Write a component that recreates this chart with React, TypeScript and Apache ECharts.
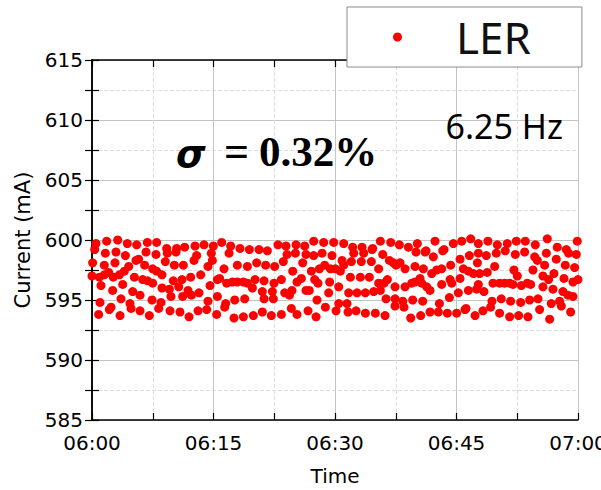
import React, { useEffect, useRef } from "react";
import * as echarts from "echarts";

// Beam current readings, [minutes after 06:00, current in mA]
const block1: [number, number][] = [
  [0.49, 599.7], [0.33, 599.2], [1.81, 599.9], [3.17, 600.0], [4.36, 599.7], [5.52, 599.6],
  [6.83, 599.8], [7.98, 599.8], [9.22, 599.3], [9.3, 598.9], [10.45, 599.3], [11.44, 599.4],
  [1.65, 598.9], [2.96, 599.0], [4.12, 598.7], [6.67, 599.0], [7.9, 598.8], [10.37, 599.0],
  [0.08, 598.1], [1.52, 597.9], [2.84, 598.1], [5.43, 598.3], [5.76, 598.4], [6.5, 597.9],
  [9.05, 598.2], [10.17, 597.9], [11.28, 597.9], [0.0, 597.0], [0.91, 596.9], [1.52, 597.1],
  [2.06, 597.3], [2.63, 596.9], [3.38, 597.1], [3.99, 597.4], [4.53, 597.8], [5.23, 596.9],
  [7.49, 597.6], [7.98, 597.4], [8.64, 597.1], [10.04, 596.6], [11.11, 596.7], [1.11, 596.2],
  [3.79, 596.3], [6.26, 596.7], [6.87, 596.6], [7.49, 596.4], [8.64, 596.0], [9.55, 595.9],
  [10.7, 596.1], [2.55, 595.8], [5.02, 595.7], [5.93, 595.4], [9.75, 595.3], [0.99, 594.8],
  [3.58, 595.1], [4.69, 594.7], [7.41, 595.0], [8.52, 594.8], [2.35, 594.4], [2.14, 594.2],
  [4.82, 594.3], [5.93, 594.1], [8.23, 594.3], [10.86, 594.0], [0.82, 593.8], [3.46, 593.7],
  [7.08, 593.7], [9.63, 594.1], [11.19, 595.3],
];

const block2: [number, number][] = [
  [12.72, 599.5], [13.83, 599.6], [14.98, 599.5], [16.01, 599.8], [17.12, 599.5], [18.27, 599.3],
  [19.43, 599.2], [20.62, 599.2], [21.65, 599.1], [22.96, 599.6], [12.92, 598.7], [14.73, 598.9],
  [16.92, 598.9], [12.59, 598.3], [14.86, 598.3], [14.32, 597.8], [16.3, 597.6], [17.94, 597.9],
  [19.18, 597.8], [20.33, 598.1], [21.44, 597.9], [22.55, 597.8], [23.62, 598.2], [12.18, 596.9],
  [13.42, 597.1], [15.48, 596.7], [15.76, 596.8], [14.57, 596.2], [16.63, 596.4], [17.33, 596.5],
  [17.94, 596.5], [18.69, 596.5], [19.18, 596.4], [20.13, 596.7], [21.24, 596.6], [22.47, 596.4],
  [23.38, 596.7], [11.85, 595.8], [12.27, 595.4], [13.21, 595.6], [15.48, 595.3], [19.8, 596.0],
  [21.03, 595.7], [22.27, 595.7], [14.32, 594.9], [16.5, 594.7], [17.62, 595.0], [18.85, 595.1],
  [21.24, 595.1], [22.39, 595.1], [13.09, 594.1], [14.16, 594.2], [16.38, 594.4], [11.98, 593.6],
  [15.39, 593.8], [17.53, 593.5], [18.69, 593.6], [19.92, 593.7], [21.03, 594.0], [22.14, 593.7],
  [23.38, 593.8],
];

const block3: [number, number][] = [
  [23.95, 599.5], [25.19, 599.6], [26.26, 599.5], [27.37, 599.9], [28.6, 599.8], [29.84, 599.8],
  [31.07, 599.7], [32.18, 599.4], [33.34, 599.4], [34.57, 599.2], [35.6, 599.9], [24.08, 598.8],
  [25.11, 598.9], [26.42, 598.8], [27.37, 598.7], [28.4, 598.9], [29.63, 598.7], [32.31, 598.9],
  [33.54, 598.9], [34.65, 599.3], [26.01, 598.1], [30.87, 598.3], [32.02, 598.2], [33.25, 598.2],
  [34.49, 598.2], [31.07, 597.9], [24.78, 597.4], [27.08, 597.4], [28.07, 597.6], [28.73, 597.9],
  [29.43, 597.6], [30.04, 597.6], [30.66, 597.4], [35.39, 597.6], [25.31, 596.5], [25.85, 596.8],
  [27.49, 596.7], [27.9, 596.4], [29.34, 596.5], [31.9, 596.9], [33.13, 596.9], [34.24, 596.9],
  [35.39, 596.4], [24.69, 595.8], [26.42, 595.8], [26.83, 595.8], [29.22, 595.6], [30.46, 596.1],
  [31.69, 595.6], [32.72, 595.6], [33.75, 595.6], [34.78, 595.7], [35.6, 595.8], [23.79, 595.6],
  [24.37, 595.4], [27.78, 595.0], [30.46, 594.7], [31.48, 594.7], [24.61, 594.3], [26.67, 594.1],
  [28.81, 594.4], [30.13, 594.1], [32.6, 594.1], [33.75, 593.9], [34.98, 593.9], [25.31, 593.8],
  [27.66, 593.6], [31.61, 594.0],
];

const block4: [number, number][] = [
  [36.88, 599.8], [37.95, 599.6], [39.06, 599.4], [40.17, 599.7], [41.24, 599.1], [42.35, 599.9],
  [43.46, 599.2], [44.61, 599.7], [45.64, 599.9], [46.75, 600.1], [47.7, 599.7], [35.89, 598.8],
  [40.0, 599.0], [41.12, 599.0], [43.3, 599.1], [46.59, 598.7], [47.7, 598.9], [36.71, 598.3],
  [37.21, 598.1], [38.03, 598.1], [37.54, 597.9], [39.88, 597.8], [40.91, 597.6], [42.14, 598.6],
  [45.44, 598.4], [47.58, 598.1], [38.65, 597.6], [41.94, 597.2], [42.56, 597.5], [43.17, 597.6],
  [44.28, 597.9], [45.85, 597.6], [46.47, 597.4], [47.08, 597.2], [36.47, 596.7], [36.05, 596.4],
  [37.41, 596.1], [38.65, 596.1], [39.47, 596.4], [39.88, 596.5], [40.5, 596.8], [40.7, 596.4],
  [41.32, 596.1], [41.73, 595.8], [43.17, 596.3], [44.2, 596.7], [44.41, 596.4], [45.44, 596.8],
  [47.7, 596.3], [36.3, 595.1], [37.41, 595.1], [38.36, 594.9], [39.59, 595.0], [40.83, 594.9],
  [42.89, 594.7], [44.12, 595.2], [45.23, 595.6], [46.47, 595.8], [47.49, 595.9], [37.41, 594.5],
  [38.52, 594.4], [46.18, 594.3], [36.18, 593.7], [39.35, 593.5], [40.58, 593.7], [41.73, 594.0],
  [42.76, 594.0], [43.87, 593.9], [45.02, 593.9], [46.05, 594.2], [47.29, 593.7],
];

const block5: [number, number][] = [
  [48.88, 599.9], [50.04, 599.6], [51.27, 599.7], [52.38, 599.9], [53.49, 599.9], [54.73, 599.6],
  [56.21, 600.1], [57.44, 599.4], [58.56, 599.2], [59.91, 599.9], [48.68, 598.7], [49.91, 598.9],
  [51.02, 599.1], [52.26, 598.8], [53.41, 599.0], [54.65, 598.6], [54.98, 598.3], [56.09, 598.9],
  [57.32, 598.4], [58.84, 598.9], [59.79, 598.8], [49.71, 597.8], [52.09, 597.5], [52.51, 597.0],
  [54.44, 597.5], [55.88, 597.9], [57.03, 597.2], [58.43, 597.9], [59.58, 597.7], [47.86, 597.2],
  [48.8, 597.3], [49.5, 596.4], [50.32, 596.4], [50.94, 596.4], [51.56, 596.4], [51.97, 596.3],
  [53.0, 596.2], [53.74, 596.4], [54.15, 596.3], [55.67, 597.0], [56.37, 596.7], [58.27, 596.8],
  [59.38, 596.5], [60.0, 596.7], [48.39, 595.7], [55.67, 596.1], [56.91, 595.9], [58.14, 595.7],
  [58.76, 595.4], [59.38, 595.3], [49.38, 594.9], [50.53, 595.1], [51.68, 594.9], [52.92, 594.8],
  [54.03, 595.0], [55.06, 595.1], [56.7, 594.7], [57.73, 594.9], [48.27, 594.1], [49.21, 594.4],
  [50.32, 593.9], [51.56, 593.6], [52.67, 593.7], [53.82, 593.6], [55.26, 594.2], [56.5, 593.4],
  [57.94, 594.5], [59.09, 594.0],
];

const timeLabels = ["06:00", "06:15", "06:30", "06:45", "07:00"];
const seriesName = "LER";
const sigmaText = "0.32%";
const repRateText = "6.25 Hz";

const AXIS_FONT = "DejaVu Sans";
const X_MIN = 0;
const X_MAX = 60;
const Y_MIN = 585;
const Y_MAX = 615;

export default function App() {
  const ref = useRef<HTMLDivElement>(null);

  useEffect(() => {
    if (!ref.current) return;
    const chart = echarts.init(ref.current, undefined, { renderer: "svg" });

    const points = [...block1, ...block2, ...block3, ...block4, ...block5];

    const boxAxisLine = { show: true, lineStyle: { color: "#000", width: 1.5 } };
    const inTick = { show: true, inside: true, length: 7, lineStyle: { color: "#000", width: 1.2 } };
    const noLabel = { show: false };
    const noSplit = { show: false };

    // Tick-only axes: every half-step gets an inward tick on all four sides
    const tickAxisX = (position: "top" | "bottom", showLine: boolean) => ({
      type: "value",
      position,
      min: X_MIN,
      max: X_MAX,
      interval: 7.5,
      axisLine: showLine ? boxAxisLine : { show: false },
      axisTick: inTick,
      axisLabel: noLabel,
      splitLine: noSplit,
    });
    const tickAxisY = (position: "left" | "right", showLine: boolean) => ({
      type: "value",
      position,
      min: Y_MIN,
      max: Y_MAX,
      interval: 2.5,
      axisLine: showLine ? boxAxisLine : { show: false },
      axisTick: inTick,
      axisLabel: noLabel,
      splitLine: noSplit,
    });

    chart.setOption({
      animation: false,
      backgroundColor: "#fff",
      grid: { left: 92, right: 23, top: 60, bottom: 70, outerBoundsMode: "none", containLabel: false },
      legend: {
        data: [seriesName],
        left: 347,
        top: 7,
        z: 10,
        padding: [8, 51, 8, 46],
        backgroundColor: "#fff",
        borderColor: "#8a8a8a",
        borderWidth: 1,
        borderRadius: 0,
        itemWidth: 9,
        itemHeight: 9,
        icon: "circle",
        textStyle: { fontSize: 44, fontFamily: "Noto Sans", color: "#111", padding: [0, 0, 0, 49] },
      },
      xAxis: [
        {
          type: "value",
          min: X_MIN,
          max: X_MAX,
          interval: 15,
          name: "Time",
          nameLocation: "middle",
          nameGap: 46,
          nameTextStyle: { fontSize: 20, fontFamily: AXIS_FONT, color: "#000" },
          axisLine: boxAxisLine,
          axisTick: { show: false },
          minorTick: { show: false, splitNumber: 2 },
          axisLabel: {
            fontSize: 20,
            fontFamily: AXIS_FONT,
            color: "#000",
            margin: 13,
            hideOverlap: false,
            formatter: (v: number) => timeLabels[Math.round(v / 15)] ?? "",
          },
          splitLine: { show: true, lineStyle: { color: "#c4c4c4", width: 1 } },
          minorSplitLine: { show: true, lineStyle: { color: "#dedede", width: 1, type: "dashed" } },
        },
        tickAxisX("top", true),
        tickAxisX("bottom", false),
      ],
      yAxis: [
        {
          type: "value",
          min: Y_MIN,
          max: Y_MAX,
          interval: 5,
          name: "Current (mA)",
          nameLocation: "middle",
          nameGap: 58,
          nameTextStyle: { fontSize: 21, fontFamily: AXIS_FONT, color: "#000" },
          axisLine: boxAxisLine,
          axisTick: { show: false },
          minorTick: { show: false, splitNumber: 2 },
          axisLabel: { fontSize: 20, fontFamily: AXIS_FONT, color: "#000", margin: 9 },
          splitLine: { show: true, lineStyle: { color: "#c4c4c4", width: 1 } },
          minorSplitLine: { show: true, lineStyle: { color: "#dedede", width: 1, type: "dashed" } },
        },
        tickAxisY("right", true),
        tickAxisY("left", false),
      ],
      series: [
        {
          name: seriesName,
          type: "scatter",
          xAxisIndex: 0,
          yAxisIndex: 0,
          symbol: "circle",
          symbolSize: 9,
          itemStyle: { color: "#ff0000", opacity: 1 },
          data: points,
        },
      ],
      graphic: [
        {
          type: "text",
          x: 176,
          y: 154,
          z: 20,
          style: {
            text: "σ",
            fill: "#000",
            font: "italic bold 38px 'DejaVu Sans'",
            verticalAlign: "middle",
          },
        },
        {
          type: "text",
          x: 224,
          y: 151,
          z: 20,
          style: {
            text: "=",
            fill: "#000",
            font: "bold 44px 'Liberation Serif'",
            verticalAlign: "middle",
          },
        },
        {
          type: "text",
          x: 259,
          y: 151,
          z: 20,
          style: {
            text: sigmaText,
            fill: "#000",
            font: "bold 43px 'Liberation Serif'",
            verticalAlign: "middle",
          },
        },
        {
          type: "text",
          x: 563,
          y: 126,
          z: 20,
          style: {
            text: repRateText,
            fill: "#000",
            font: "34px 'Noto Sans'",
            align: "right",
            verticalAlign: "middle",
          },
        },
      ],
    });

    return () => chart.dispose();
  }, []);

  return (
    <div
      ref={ref}
      style={{ position: "fixed", left: 0, top: 0, width: 601, height: 490, background: "#fff" }}
    />
  );
}
